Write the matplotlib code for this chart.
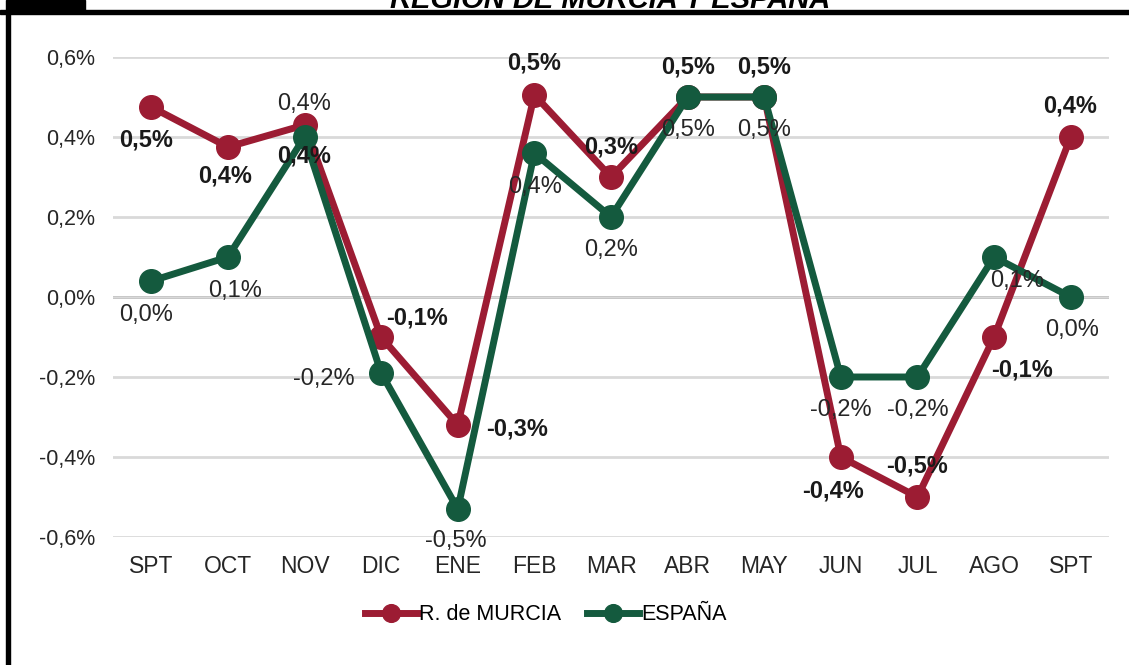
import numpy as np
import matplotlib
matplotlib.use("Agg")
import matplotlib.pyplot as plt
from matplotlib.patches import Rectangle
from matplotlib.ticker import FuncFormatter, FixedLocator

plt.rcParams['font.family'] = ['Liberation Sans', 'DejaVu Sans']

# data (percent)
months = ['SPT', 'OCT', 'NOV', 'DIC', 'ENE', 'FEB', 'MAR', 'ABR', 'MAY', 'JUN', 'JUL', 'AGO', 'SPT']
murcia = [0.475, 0.375, 0.43, -0.10, -0.32, 0.505, 0.30, 0.50, 0.50, -0.40, -0.50, -0.10, 0.40]
espana = [0.04, 0.10, 0.40, -0.19, -0.53, 0.36, 0.20, 0.50, 0.50, -0.20, -0.20, 0.10, 0.00]

# label offsets in pixels (dx right, dy down) relative to each point
murcia_off = [(-5, 33), (-3, 29), (0, 31), (36, -19), (59, 4), (0, -32), (0, -30),
              (0, -30), (0, -30), (-8, 34), (0, -31), (28, 33), (-1, -31)]
espana_off = [(-5, 34), (7, 34), (0, -33), (-57, 6), (-2, 32), (1, 34), (0, 33),
              (0, 33), (0, 33), (0, 33), (0, 33), (23, 24), (1, 33)]

RED = '#9C1C33'
GREEN = '#145A3E'
W, H = 1129, 665

fig = plt.figure(figsize=(W / 100, H / 100), dpi=100)
ax = fig.add_axes([113 / W, 1 - 537 / H, (1109 - 113) / W, (537 - 57) / H])

x = np.arange(len(months))
ax.plot(x, murcia, color=RED, lw=5, marker='o', ms=17, label='R. de MURCIA', zorder=3)
ax.plot(x, espana, color=GREEN, lw=5, marker='o', ms=17, label='ESPAÑA', zorder=4)


def fmt(v):
    return f"{v:.1f}".replace('.', ',') + '%'


for xi, v, (dx, dy) in zip(x, murcia, murcia_off):
    ax.annotate(fmt(v), (xi, v), xytext=(dx * 0.72, -dy * 0.72), textcoords='offset points',
                ha='center', va='center', fontsize=17, fontweight='bold', color='#1a1a1a', zorder=6)
for xi, v, (dx, dy) in zip(x, espana, espana_off):
    ax.annotate(fmt(v), (xi, v), xytext=(dx * 0.72, -dy * 0.72), textcoords='offset points',
                ha='center', va='center', fontsize=17, color='#262626', zorder=6)

ax.set_xlim(-0.5, len(months) - 0.5)
ax.set_ylim(-0.6, 0.6)
ax.yaxis.set_major_locator(FixedLocator([-0.6, -0.4, -0.2, 0.0, 0.2, 0.4, 0.6]))
ax.yaxis.set_major_formatter(FuncFormatter(lambda v, p: fmt(v)))
ax.set_xticks(x)
ax.set_xticklabels(months)
ax.tick_params(length=0, labelcolor='#262626')
ax.tick_params(axis='x', pad=13, labelsize=16.5)
ax.tick_params(axis='y', pad=13, labelsize=15.5)
ax.grid(axis='y', color='#D9D9D9', lw=2, zorder=0)
ax.axhline(0, color='black', lw=1.8, zorder=1)
for s in ax.spines.values():
    s.set_visible(False)

fig.legend(loc='center', bbox_to_anchor=(546 / W, 1 - 615 / H), ncol=2, frameon=False,
           fontsize=15.5, handlelength=2.4, markerscale=0.75, columnspacing=1.2,
           handletextpad=0.1)

# clipped title and frame
fig.text(610 / W, 1 - 8 / H, 'REGIÓN DE MURCIA Y ESPAÑA', ha='center', va='baseline',
         fontsize=21, fontweight='bold', fontstyle='italic')
fig.patches.append(Rectangle((0, 1 - 14 / H), 1, 4 / H, transform=fig.transFigure,
                             color='black', zorder=10))
fig.patches.append(Rectangle((6 / W, 0), 4 / W, 1 - 10 / H, transform=fig.transFigure,
                             color='black', zorder=10))
fig.patches.append(Rectangle((6 / W, 1 - 12 / H), 79 / W, 12 / H, transform=fig.transFigure,
                             color='black', zorder=10))

fig.savefig('out.png', dpi=100)
